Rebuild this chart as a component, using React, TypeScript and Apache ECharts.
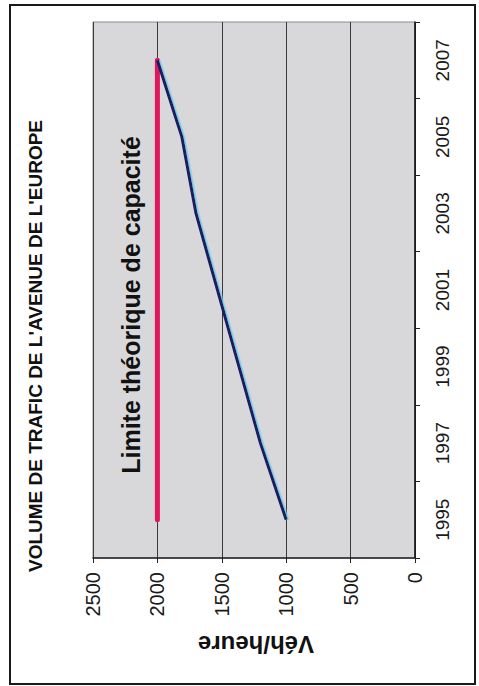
import React, { useEffect, useRef } from 'react';
import * as echarts from 'echarts';

// Category axis (years), drawn vertically, 1994 at bottom
const years = ['1994', '1995', '1996', '1997', '1998', '1999', '2000', '2001', '2002', '2003', '2004', '2005', '2006', '2007', '2008'];
const labelYears = ['1995', '1997', '1999', '2001', '2003', '2005', '2007'];
const tickYears = ['1994', '1996', '1998', '2000', '2002', '2004', '2006', '2008'];

// Theoretical capacity limit
const capacityYears = ['1995', '2007'];
const capacityValues = [2000, 2000];

// Traffic volume (veh/hour)
const trafficYears = ['1995', '1997', '2003', '2005', '2007'];
const trafficValues = [1000, 1200, 1700, 1810, 2000];

const valueMin = 0;
const valueMax = 2500;
const valueStep = 500;

const titleText = "VOLUME DE TRAFIC DE L'AVENUE DE L'EUROPE";
const limitText = 'Limite théorique de capacité';
const unitText = 'Véh/heure';

const SANS = "'Liberation Sans', Arial, Helvetica, sans-serif";

export default function App() {
  const ref = useRef<HTMLDivElement>(null);

  useEffect(() => {
    if (!ref.current) return;
    const chart = echarts.init(ref.current, undefined, { renderer: 'svg' });
    const option: any = {
      animation: false,
      backgroundColor: '#ffffff',
      grid: {
        left: 93,
        right: 64,
        top: 22,
        bottom: 128,
        show: true,
        backgroundColor: '#d8d8da',
        borderColor: '#8a8a8a',
        borderWidth: 1,
      },
      xAxis: {
        type: 'value',
        inverse: true,
        position: 'bottom',
        min: valueMin,
        max: valueMax,
        interval: valueStep,
        axisLine: { show: true, lineStyle: { color: '#222', width: 1.5 } },
        axisTick: { show: true, length: 5, lineStyle: { color: '#222' } },
        axisLabel: {
          rotate: 90,
          margin: 14,
          fontSize: 20,
          fontFamily: SANS,
          color: '#1a1a1a',
          formatter: (v: number) => String(v),
        },
        splitLine: { show: true, lineStyle: { color: '#3a3a3a', width: 1 } },
      },
      yAxis: {
        type: 'category',
        position: 'right',
        boundaryGap: false,
        data: years,
        axisLine: { show: true, lineStyle: { color: '#111', width: 1.5 } },
        axisTick: {
          show: true,
          length: 5,
          interval: (_i: number, v: string) => tickYears.includes(v),
          lineStyle: { color: '#222' },
        },
        axisLabel: {
          rotate: 90,
          margin: 18,
          fontSize: 19,
          fontFamily: SANS,
          color: '#1a1a1a',
          interval: (_i: number, v: string) => labelYears.includes(v),
        },
        splitLine: { show: false },
      },
      series: [
        {
          type: 'line',
          name: 'Capacité',
          data: capacityYears.map((y, i) => [capacityValues[i], y]),
          symbol: 'none',
          lineStyle: { color: '#e0175c', width: 5, cap: 'round' },
          z: 2,
        },
        {
          type: 'line',
          name: 'Trafic',
          data: trafficYears.map((y, i) => [trafficValues[i], y]),
          symbol: 'none',
          lineStyle: {
            color: '#1c1a5e',
            width: 3,
            shadowColor: 'rgba(110,200,235,0.9)',
            shadowOffsetX: 1.5,
            shadowOffsetY: 0,
            shadowBlur: 0,
          },
          z: 3,
        },
      ],
      graphic: [
        {
          type: 'rect',
          shape: { x: 10, y: 5, width: 465, height: 679 },
          style: { fill: 'none', stroke: '#1a1a1a', lineWidth: 2 },
          z: 10,
        },
        {
          type: 'text',
          x: 35,
          y: 346,
          rotation: Math.PI / 2,
          style: {
            text: titleText,
            fontSize: 19,
            fontWeight: 'bold',
            fontFamily: SANS,
            fill: '#111',
            align: 'center',
            verticalAlign: 'middle',
          },
          z: 10,
        },
        {
          type: 'text',
          x: 131,
          y: 305,
          rotation: Math.PI / 2,
          style: {
            text: limitText,
            fontSize: 25,
            fontWeight: 'bold',
            fontFamily: SANS,
            fill: '#111',
            align: 'center',
            verticalAlign: 'middle',
          },
          z: 10,
        },
        {
          type: 'text',
          x: 256,
          y: 644,
          rotation: Math.PI,
          style: {
            text: unitText,
            fontSize: 24,
            fontWeight: 'bold',
            fontFamily: SANS,
            fill: '#111',
            align: 'center',
            verticalAlign: 'middle',
          },
          z: 10,
        },
      ],
    };
    chart.setOption(option);
    return () => chart.dispose();
  }, []);

  return (
    <div
      ref={ref}
      style={{ position: 'fixed', left: 0, top: 0, width: 479, height: 686 }}
    />
  );
}
